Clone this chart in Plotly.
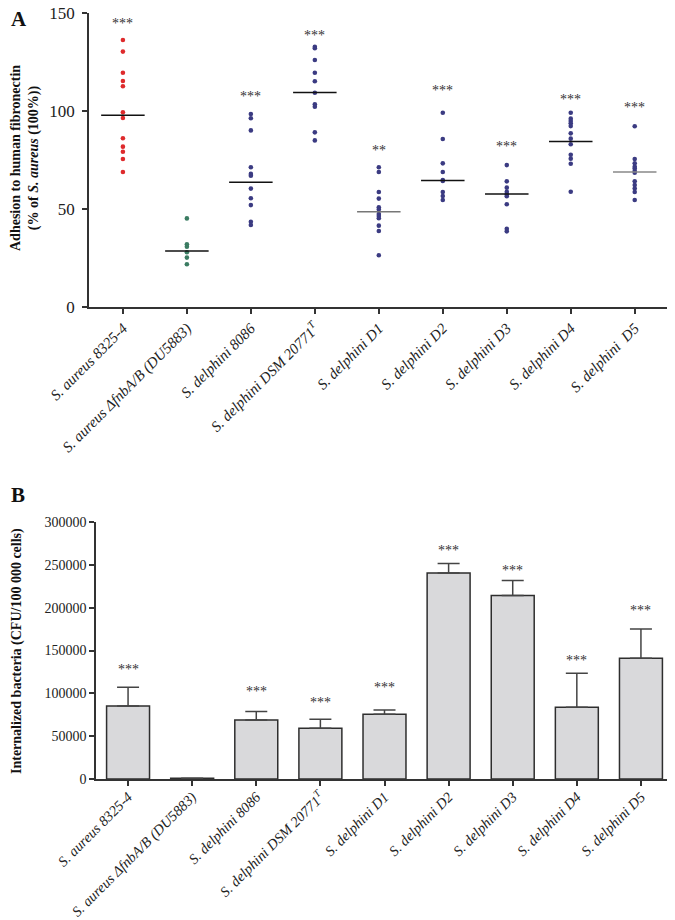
import plotly.graph_objects as go

# ---------------- data ----------------
labels_a = [
    "<i>S. aureus 8325-4</i>",
    "<i>S. aureus ΔfnbA/B (DU5883)</i>",
    "<i>S. delphini 8086</i>",
    "<i>S. delphini DSM 20771<sup>T</sup></i>",
    "<i>S. delphini D1</i>",
    "<i>S. delphini D2</i>",
    "<i>S. delphini D3</i>",
    "<i>S. delphini D4</i>",
    "<i>S. delphini  D5</i>",
]
labels_b = [
    "<i>S. aureus 8325-4</i>",
    "<i>S. aureus ΔfnbA/B (DU5883)</i>",
    "<i>S. delphini 8086</i>",
    "<i>S. delphini DSM 20771<sup>T</sup></i>",
    "<i>S. delphini D1</i>",
    "<i>S. delphini D2</i>",
    "<i>S. delphini D3</i>",
    "<i>S. delphini D4</i>",
    "<i>S. delphini D5</i>",
]

aureus_8325 = [136.2, 130.3, 119.5, 115.3, 112.6, 99.3, 96.4, 86.1, 81.8, 79.2, 75.5, 68.9]
aureus_dfnb = [45.2, 32.0, 30.8, 27.9, 25.2, 21.8]
delphini_8086 = [98.5, 96.3, 90.1, 71.3, 67.9, 67.0, 60.4, 55.5, 52.0, 43.5, 41.8]
delphini_dsm = [132.8, 132.0, 126.0, 119.5, 115.2, 109.3, 103.4, 102.2, 89.1, 85.0]
delphini_d1 = [71.3, 68.9, 58.7, 55.3, 50.9, 49.8, 47.4, 46.4, 45.3, 41.5, 38.8, 26.4]
delphini_d2 = [99.1, 85.7, 73.3, 68.9, 64.8, 64.3, 58.7, 56.6, 54.6]
delphini_d3 = [72.4, 64.1, 60.9, 58.8, 57.5, 56.5, 52.4, 39.9, 38.6]
delphini_d4 = [99.1, 96.1, 94.9, 93.7, 92.3, 88.6, 85.9, 83.0, 77.7, 75.7, 73.1, 58.8]
delphini_d5 = [92.2, 75.5, 73.3, 71.6, 70.6, 69.4, 68.5, 64.1, 62.2, 60.4, 58.7, 54.6]
adhesion_points = [aureus_8325, aureus_dfnb, delphini_8086, delphini_dsm, delphini_d1,
                   delphini_d2, delphini_d3, delphini_d4, delphini_d5]
adhesion_median = [97.8, 28.6, 63.6, 109.4, 48.6, 64.6, 57.7, 84.5, 68.9]
sig_a = ["***", "", "***", "***", "**", "***", "***", "***", "***"]
sig_a_y = [146, None, 109, 140, 81.3, 111.9, 83.5, 107.3, 103.4]

internalized_mean = [85300, 800, 69000, 59200, 75600, 240400, 214200, 83800, 141000]
internalized_err = [21900, 0, 9700, 10600, 5000, 11200, 17600, 39700, 34000]
sig_b = ["***", "", "***", "***", "***", "***", "***", "***", "***"]
sig_b_y = [131000, None, 106000, 92300, 110700, 270800, 247400, 142200, 200200]

# ---------------- styles ----------------
OFF = 8                      # page body margin offset of the plot div
W, H = 675 - OFF, 920 - OFF  # figure size so it ends at the window edge


def px(x):
    return (x - OFF) / W


def py(y):
    return (H - (y - OFF)) / H


FONT = "Liberation Serif"
AX = "#333333"
dot_colors = ["#de2a2c", "#3b7c62"] + ["#3b3b82"] * 7
median_colors = ["#111111", "#111111", "#111111", "#111111", "#777777",
                 "#111111", "#111111", "#111111", "#888888"]

fig = go.Figure()

# Panel A dots + medians
for i, pts in enumerate(adhesion_points):
    fig.add_trace(go.Scatter(
        x=[i] * len(pts), y=pts, mode="markers",
        marker=dict(size=4.6, color=dot_colors[i]),
        xaxis="x", yaxis="y", showlegend=False, hoverinfo="y"))
    fig.add_trace(go.Scatter(
        x=[i - 0.34, i + 0.34], y=[adhesion_median[i]] * 2, mode="lines",
        line=dict(color=median_colors[i], width=1.5),
        xaxis="x", yaxis="y", showlegend=False, hoverinfo="skip"))

# Panel B bars
fig.add_trace(go.Bar(
    x=list(range(len(internalized_mean))), y=internalized_mean, width=0.67,
    marker=dict(color="#d9d9db", line=dict(color="#2e2e2e", width=1.5)),
    error_y=dict(type="data", symmetric=False, array=internalized_err,
                 arrayminus=[0] * len(internalized_err),
                 color="#444444", thickness=1.5, width=11),
    xaxis="x2", yaxis="y2", showlegend=False))

annotations = []
for i, (s, yy) in enumerate(zip(sig_a, sig_a_y)):
    if s:
        annotations.append(dict(x=i, y=yy, xref="x", yref="y", text=s, showarrow=False,
                                font=dict(family=FONT, size=14, color="#333333"),
                                yanchor="middle", yshift=-3))
for i, (s, yy) in enumerate(zip(sig_b, sig_b_y)):
    if s:
        annotations.append(dict(x=i, y=yy, xref="x2", yref="y2", text=s, showarrow=False,
                                font=dict(family=FONT, size=14, color="#333333"),
                                yanchor="middle", yshift=-3))

# Titles and panel letters
annotations += [
    dict(x=px(25), y=py(158), xref="paper", yref="paper", textangle=-90,
         text="<b>Adhesion to human fibronectin<br>(% of <i>S. aureus</i> (100%))</b>",
         showarrow=False, font=dict(family=FONT, size=14, color="#111"),
         xanchor="center", yanchor="middle"),
    dict(x=px(17), y=py(651), xref="paper", yref="paper", textangle=-90,
         text="<b>Internalized bacteria (CFU/100 000 cells)</b>",
         showarrow=False, font=dict(family=FONT, size=14, color="#111"),
         xanchor="center", yanchor="middle"),
    dict(x=px(9), y=py(8), xref="paper", yref="paper", text="<b>A</b>",
         showarrow=False, font=dict(family=FONT, size=21, color="#111"),
         xanchor="left", yanchor="top", yshift=3),
    dict(x=px(9), y=py(495), xref="paper", yref="paper", text="<b>B</b>",
         showarrow=False, font=dict(family=FONT, size=21, color="#111"),
         xanchor="left", yanchor="middle"),
]

axis_common = dict(showline=True, linecolor=AX, linewidth=1.5, ticks="outside",
                   tickcolor=AX, tickwidth=1.5, ticklen=5, showgrid=False,
                   zeroline=False, automargin=False, ticklabeloverflow="allow")

fig.update_layout(
    width=W, height=H,
    margin=dict(l=0, r=0, t=0, b=0),
    paper_bgcolor="white", plot_bgcolor="white",
    font=dict(family=FONT, color="#222"),
    xaxis=dict(domain=[px(89), px(668)], range=[-0.53, 8.52], anchor="y",
               tickvals=list(range(9)), ticktext=labels_a, tickangle=-45,
               tickfont=dict(family=FONT, size=15, color="#222"), **axis_common),
    yaxis=dict(domain=[py(307), py(13)], range=[0, 150], anchor="x",
               tickvals=[0, 50, 100, 150], ticklabelstandoff=4,
               tickfont=dict(family=FONT, size=17, color="#222"), **axis_common),
    xaxis2=dict(domain=[px(96), px(673)], range=[-0.5, 8.5], anchor="y2",
                tickvals=list(range(9)), ticktext=labels_b, tickangle=-45,
                ticklabelstandoff=-3,
                tickfont=dict(family=FONT, size=14.5, color="#222"), **axis_common),
    yaxis2=dict(domain=[py(779), py(522)], range=[0, 300000], anchor="x2",
                dtick=50000, tickformat="d",
                tickfont=dict(family=FONT, size=14, color="#222"), **axis_common),
    annotations=annotations,
)

fig.write_html("out.html")
